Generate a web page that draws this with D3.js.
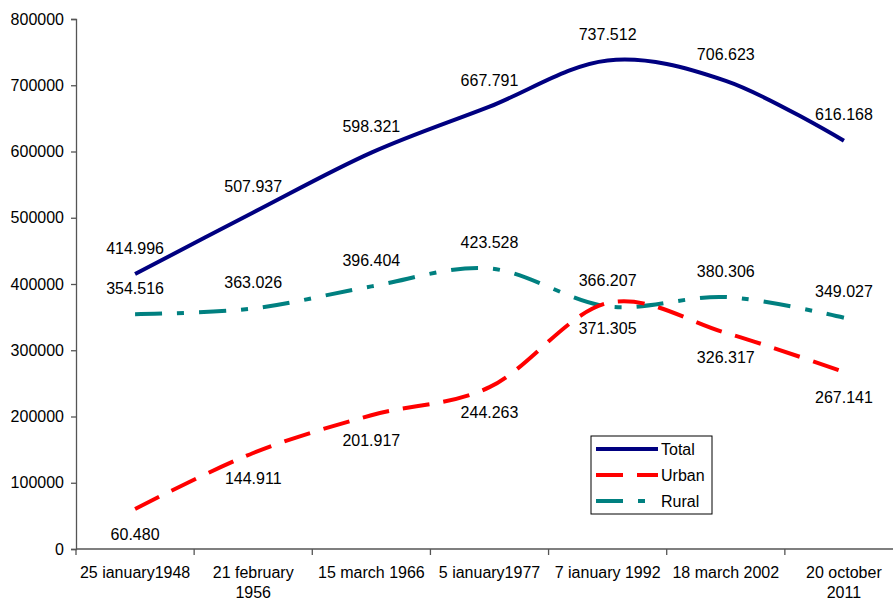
<!DOCTYPE html>
<html><head><meta charset="utf-8">
<script src="https://cdn.jsdelivr.net/npm/d3@7"></script>
<style>body{margin:0;background:#fff}svg{display:block}text{font-family:"Liberation Sans",Arial,sans-serif;fill:#000}</style>
</head><body><svg id="c" width="893" height="601"></svg>
<script>
const categories = [["25 ianuary1948"],["21 february","1956"],["15 march 1966"],["5 ianuary1977"],["7 ianuary 1992"],["18 march 2002"],["20 october","2011"]];
const total = [414996, 507937, 598321, 667791, 737512, 706623, 616168];
const urban = [60480, 144911, 201917, 244263, 371305, 326317, 267141];
const rural = [354516, 363026, 396404, 423528, 366207, 380306, 349027];
const yTicks = [0,100000,200000,300000,400000,500000,600000,700000,800000];
const seriesNames = ["Total","Urban","Rural"];

const svg = d3.select("#c");
const x = d3.scaleBand().domain(d3.range(categories.length)).range([76, 903]);
const y = d3.scaleLinear().domain([0, 800000]).range([549, 19]);
const cx = i => x(i) + x.bandwidth()/2;

// axes
const yAxis = d3.axisLeft(y).tickValues(yTicks).tickSize(5).tickPadding(7).tickFormat(d3.format("d"));
const gy = svg.append("g").attr("transform","translate(76,0)").call(yAxis);
gy.select(".domain").attr("stroke","#555").attr("stroke-width",1.3);
gy.selectAll(".tick line").attr("stroke","#555").attr("stroke-width",1.3);
gy.selectAll(".tick text").style("font-size","16px").attr("fill","#000");

const gx = svg.append("g").attr("transform","translate(0,549)");
gx.append("line").attr("x1",76).attr("x2",903).attr("stroke","#555").attr("stroke-width",1.3);
const bounds = d3.range(categories.length+1).map(i => i < categories.length ? x(i) : x(categories.length-1)+x.bandwidth());
gx.selectAll("line.tk").data(bounds).join("line").attr("class","tk")
  .attr("x1",d=>d).attr("x2",d=>d).attr("y1",0).attr("y2",6).attr("stroke","#555").attr("stroke-width",1.3);
categories.forEach((lines,i)=>{
  const t = gx.append("text").attr("x",cx(i)).attr("y",29).attr("text-anchor","middle").style("font-size","16px");
  lines.forEach((l,j)=>t.append("tspan").attr("x",cx(i)).attr("dy", j===0?0:20).text(l));
});

const line = d3.line().x((d,i)=>cx(i)).y(d=>y(d)).curve(d3.curveCardinal.tension(0));
const styles = [
  {data: total, color:"#000080", dash:null, lab:-26},
  {data: urban, color:"#FF0000", dash:"27,14", lab:25},
  {data: rural, color:"#008080", dash:"27,15,7,15", lab:-26}
];
const fmt = v => d3.format(".3f")(v/1000);
// draw in order: rural, urban, total
[2,1,0].forEach(k=>{
  const s = styles[k];
  svg.append("path").attr("d", line(s.data)).attr("fill","none").attr("stroke",s.color)
    .attr("stroke-width",4).attr("stroke-dasharray",s.dash);
});
styles.forEach(s=>{
  svg.append("g").selectAll("text").data(s.data).join("text")
    .attr("x",(d,i)=>cx(i)).attr("y",d=>y(d)+s.lab).attr("dy","0.35em")
    .attr("text-anchor","middle").style("font-size","16px").text(d=>fmt(d));
});

// legend
const lg = svg.append("g").attr("transform","translate(591,436)");
lg.append("rect").attr("x",0).attr("y",0).attr("width",121).attr("height",78).attr("fill","#fff").attr("stroke","#000").attr("stroke-width",1);
styles.forEach((s,i)=>{
  const yy = 13 + i*26;
  lg.append("line").attr("x1",5).attr("x2",67).attr("y1",yy).attr("y2",yy).attr("stroke",s.color)
    .attr("stroke-width",4).attr("stroke-dasharray", s.dash);
  lg.append("text").attr("x",70).attr("y",yy).attr("dy","0.35em").style("font-size","16px").text(seriesNames[i]);
});
</script></body></html>
